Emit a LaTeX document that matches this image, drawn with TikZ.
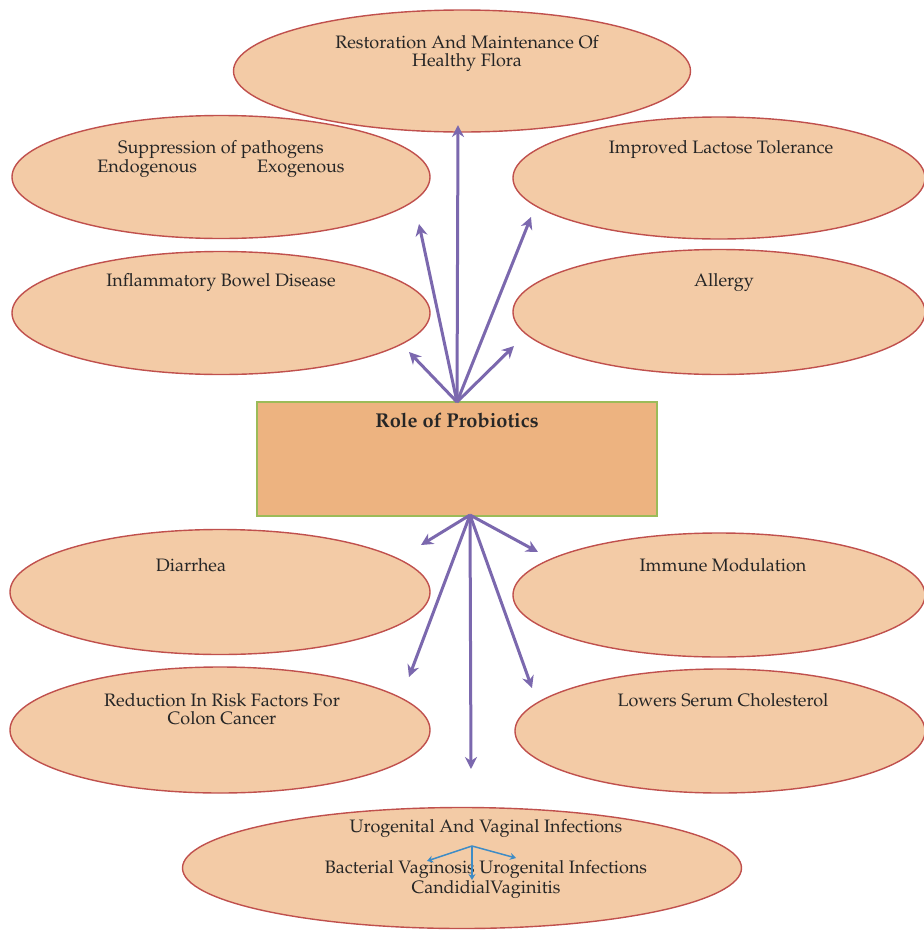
\documentclass[tikz,border=0pt]{standalone}
\usepackage[T1]{fontenc}
\usepackage{mathpazo}
\usetikzlibrary{shapes.geometric,arrows.meta}
\definecolor{ellfill}{HTML}{F3CBA6}
\definecolor{elldraw}{HTML}{C0504D}
\definecolor{boxfill}{HTML}{EDB380}
\definecolor{boxdraw}{HTML}{9BBB59}
\definecolor{arrpurple}{HTML}{7B68AE}
\definecolor{arrblue}{HTML}{3E8CC6}
\tikzset{
  ell/.style={ellipse, draw=elldraw, fill=ellfill, line width=1.4pt, inner sep=0pt},
  txt/.style={inner sep=0pt, align=center, font=\fontsize{18}{17.5}\selectfont, text=black!85},
  mainbox/.style={rectangle, draw=boxdraw, fill=boxfill, line width=1.5pt, inner sep=0pt, minimum width=400pt, minimum height=114pt},
  parr/.style={draw=arrpurple, line width=3pt, -{Stealth[length=12pt,width=12pt]}},
  barr/.style={draw=arrblue, line width=1.5pt, -{Stealth[length=6pt,width=7pt]}}
}
\begin{document}
\begin{tikzpicture}[x=1pt,y=-1pt]
\useasboundingbox (0,0) rectangle (924,930);
\fill[white] (0,0) rectangle (924,930);
% ellipses
\node[ell, minimum width=418pt, minimum height=123pt] (supp) at (221,177) {};
\node[ell, minimum width=412pt, minimum height=122pt] (lact) at (719,178) {};
\node[ell, minimum width=457pt, minimum height=122pt] (rest) at (462,71) {};
\node[ell, minimum width=418pt, minimum height=123pt] (ibd) at (221,313) {};
\node[ell, minimum width=412pt, minimum height=125pt] (allergy) at (719,312) {};
\node[ell, minimum width=420pt, minimum height=125pt] (diarr) at (220,592) {};
\node[ell, minimum width=412pt, minimum height=124pt] (immune) at (719,595) {};
\node[ell, minimum width=420pt, minimum height=126pt] (colon) at (220,730) {};
\node[ell, minimum width=410pt, minimum height=124pt] (chol) at (720,731) {};
\node[ell, minimum width=559pt, minimum height=121pt] (uro) at (462,868) {};
% central box
\node[mainbox] (role) at (457,459) {};
% texts
\node[txt] (t1) at (467,53.5) {Restoration And Maintenance Of\\Healthy Flora};
\node[txt] (t2) at (221,159) {Suppression of pathogens\\Endogenous\hspace{60pt}Exogenous};
\node[txt] (t3) at (721,150) {Improved Lactose Tolerance};
\node[txt] (t4) at (221,283) {Inflammatory Bowel Disease};
\node[txt] (t5) at (724,283) {Allergy};
\node[txt] (t6) at (191,565) {Diarrhea};
\node[txt] (t7) at (723,565) {Immune Modulation};
\node[txt] (t8) at (222,709) {Reduction In Risk Factors For\\Colon Cancer};
\node[txt] (t9) at (723,700) {Lowers Serum Cholesterol};
\node[txt] (t10a) at (486,829) {Urogenital And Vaginal Infections};
\node[txt] (t10b) at (486,879.5) {Bacterial Vaginosis Urogenital Infections\\CandidialVaginitis};
\node[txt, font=\fontsize{20}{22}\selectfont\bfseries] (trole) at (457,420) {Role of Probiotics};
% arrow endpoints
\coordinate (up) at (457,402);
\coordinate (dn) at (470,515);
\coordinate (u1) at (458,125);
\coordinate (u2) at (419,224);
\coordinate (u3) at (531,217);
\coordinate (u4) at (409,352);
\coordinate (u5) at (514,346);
\coordinate (d1) at (421,545);
\coordinate (d2) at (538,552);
\coordinate (d3) at (409,677);
\coordinate (d4) at (532,688);
\coordinate (d5) at (471,769);
\draw[parr] (up) -- (u1);
\draw[parr] (up) -- (u2);
\draw[parr] (up) -- (u3);
\draw[parr] (up) -- (u4);
\draw[parr] (up) -- (u5);
\draw[parr] (dn) -- (d1);
\draw[parr] (dn) -- (d2);
\draw[parr] (dn) -- (d3);
\draw[parr] (dn) -- (d4);
\draw[parr] (dn) -- (d5);
% blue sub-arrows
\coordinate (bv) at (472,846);
\coordinate (b1) at (427,861);
\coordinate (b2) at (516,858);
\coordinate (b3) at (472,880);
\draw[barr] (bv) -- (b1);
\draw[barr] (bv) -- (b2);
\draw[barr] (bv) -- (b3);
\end{tikzpicture}
\end{document}
